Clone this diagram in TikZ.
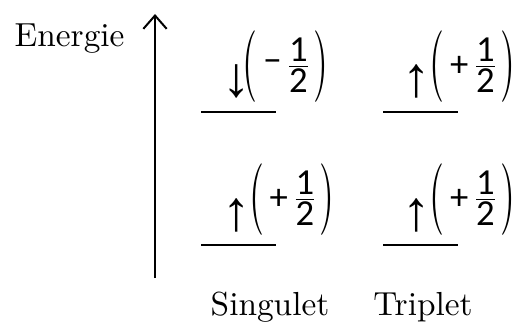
\documentclass[tikz,border=0pt]{standalone}
\usepackage{amsmath}
\usepackage{graphicx}
\usepackage{fontspec}
\usepackage{tikz}
\usetikzlibrary{positioning, arrows.meta}
\newfontfamily\spinfont{Carlito}
\newfontfamily\arrowfont{Liberation Sans}
\newcommand{\spinsize}{\fontsize{11}{13}\selectfont\spinfont}
\newcommand{\tallparen}[1]{\scalebox{1.15}[2.15]{\normalfont #1}}
\newcommand{\spinval}[1]{$\vcenter{\hbox{\tallparen(}}\mkern3mu%
  \vcenter{\hbox{\spinsize #1}}\mkern2mu%
  \frac{\mbox{\spinsize 1}}{\mbox{\spinsize 2}}\mkern1mu%
  \vcenter{\hbox{\tallparen)}}$}

\begin{document}
\begin{tikzpicture}[x=1pt, y=1pt,
    level/.style={line width=0.6pt},
    spinarrow/.style={inner sep=0pt, font=\fontsize{17}{19}\selectfont\arrowfont},
    spin/.style={inner sep=0pt, anchor=center}]
    \useasboundingbox (0,0) rectangle (154.2,96.3);
    % energy axis
    \node[anchor=base west, inner sep=0pt] (energie) at (4.2,82.2) {Energie};
    \coordinate (axbot) at (46.5,12.9);
    \coordinate (axtop) at (46.5,92.1);
    \draw[line width=0.6pt, -{Straight Barb[length=4pt, width=7pt]}] (axbot) -- (axtop);
    % singulet
    \draw[level] (60.3,62.7) coordinate (s2a) -- (82.8,62.7) coordinate (s2b);
    \draw[level] (60.3,22.8) coordinate (s1a) -- (82.8,22.8) coordinate (s1b);
    \node[spinarrow] (s2arrow) at (71.1,72) {↓};
    \node[spinarrow] (s1arrow) at (71.1,31.8) {↑};
    \node[spin] (s2) at (85.7,76.4) {\spinval{−}};
    \node[spin] (s1) at (87.6,36.5) {\spinval{+}};
    % triplet
    \draw[level] (114.9,62.7) coordinate (t2a) -- (137.4,62.7) coordinate (t2b);
    \draw[level] (114.9,22.8) coordinate (t1a) -- (137.4,22.8) coordinate (t1b);
    \node[spinarrow] (t2arrow) at (125.1,72) {↑};
    \node[spinarrow] (t1arrow) at (125.1,31.8) {↑};
    \node[spin] (t2) at (141.75,76.4) {\spinval{+}};
    \node[spin] (t1) at (141.75,36.5) {\spinval{+}};
    % labels
    \node[anchor=base, inner sep=0pt] (singulet) at (81,1.8) {Singulet};
    \node[anchor=base, inner sep=0pt] (triplet) at (126.9,1.8) {Triplet};
\end{tikzpicture}
\end{document}
